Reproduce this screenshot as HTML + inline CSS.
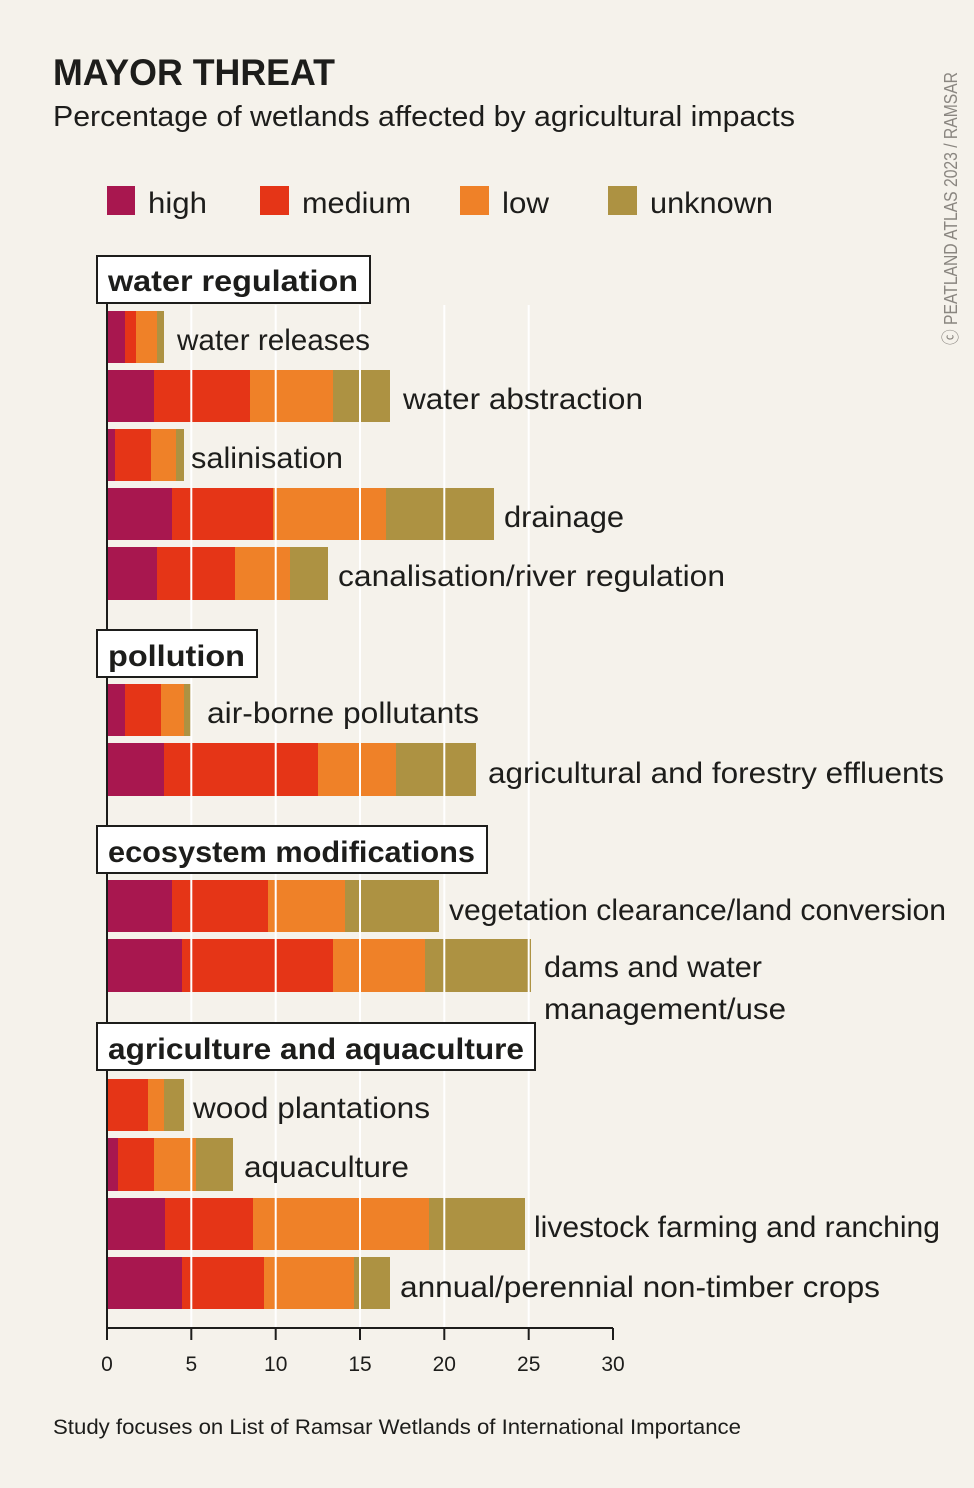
<!DOCTYPE html>
<html><head><meta charset="utf-8"><style>
html,body{margin:0;padding:0;background:#f5f2eb;}
svg{display:block;font-family:"Liberation Sans",sans-serif;}
</style></head><body>
<svg width="974" height="1488" viewBox="0 0 974 1488" xmlns="http://www.w3.org/2000/svg">
<rect width="974" height="1488" fill="#f5f2eb"/>
<text x="53" y="85" font-size="37" font-weight="bold" fill="#1d1d1b" textLength="282" lengthAdjust="spacingAndGlyphs">MAYOR THREAT</text>
<text x="53" y="126" font-size="29" fill="#1d1d1b" textLength="742" lengthAdjust="spacingAndGlyphs">Percentage of wetlands affected by agricultural impacts</text>
<text transform="translate(957,345) rotate(-90)" font-size="18" fill="#8a8680" textLength="273" lengthAdjust="spacingAndGlyphs">ⓒ PEATLAND ATLAS 2023 / RAMSAR</text>
<g font-size="30" fill="#1d1d1b">
<rect x="107" y="186" width="28" height="29" fill="#a8174f"/><text x="148" y="213" textLength="59" lengthAdjust="spacingAndGlyphs">high</text>
<rect x="260" y="186" width="29" height="29" fill="#e53517"/><text x="302" y="213" textLength="109" lengthAdjust="spacingAndGlyphs">medium</text>
<rect x="460" y="186" width="29" height="29" fill="#ef8128"/><text x="502" y="213" textLength="47" lengthAdjust="spacingAndGlyphs">low</text>
<rect x="608" y="186" width="29" height="29" fill="#ad9242"/><text x="650" y="213" textLength="123" lengthAdjust="spacingAndGlyphs">unknown</text>
</g>
<g id="bars">
<!-- y, h, e, m, l, u end positions -->
<g fill="#a8174f">
<rect x="107" y="311" width="18" height="52"/><rect x="107" y="370" width="47" height="52"/><rect x="107" y="429" width="8" height="52"/><rect x="107" y="488" width="65" height="52"/><rect x="107" y="547" width="50" height="53"/>
<rect x="107" y="684" width="18" height="52"/><rect x="107" y="743" width="57" height="53"/>
<rect x="107" y="880" width="65" height="52"/><rect x="107" y="939" width="75" height="53"/>
<rect x="107" y="1138" width="11" height="53"/><rect x="107" y="1198" width="58" height="52"/><rect x="107" y="1257" width="75" height="52"/>
</g>
<g fill="#e53517">
<rect x="125" y="311" width="11" height="52"/><rect x="154" y="370" width="96" height="52"/><rect x="115" y="429" width="36" height="52"/><rect x="172" y="488" width="101" height="52"/><rect x="157" y="547" width="78" height="53"/>
<rect x="125" y="684" width="36" height="52"/><rect x="164" y="743" width="154" height="53"/>
<rect x="172" y="880" width="96" height="52"/><rect x="182" y="939" width="151" height="53"/>
<rect x="107" y="1079" width="41" height="52"/><rect x="118" y="1138" width="36" height="53"/><rect x="165" y="1198" width="88" height="52"/><rect x="182" y="1257" width="82" height="52"/>
</g>
<g fill="#ef8128">
<rect x="136" y="311" width="21" height="52"/><rect x="250" y="370" width="83" height="52"/><rect x="151" y="429" width="25" height="52"/><rect x="273" y="488" width="113" height="52"/><rect x="235" y="547" width="55" height="53"/>
<rect x="161" y="684" width="23" height="52"/><rect x="318" y="743" width="78" height="53"/>
<rect x="268" y="880" width="77" height="52"/><rect x="333" y="939" width="92" height="53"/>
<rect x="148" y="1079" width="16" height="52"/><rect x="154" y="1138" width="42" height="53"/><rect x="253" y="1198" width="176" height="52"/><rect x="264" y="1257" width="90" height="52"/>
</g>
<g fill="#ad9242">
<rect x="157" y="311" width="7" height="52"/><rect x="333" y="370" width="57" height="52"/><rect x="176" y="429" width="8" height="52"/><rect x="386" y="488" width="108" height="52"/><rect x="290" y="547" width="38" height="53"/>
<rect x="184" y="684" width="7" height="52"/><rect x="396" y="743" width="80" height="53"/>
<rect x="345" y="880" width="94" height="52"/><rect x="425" y="939" width="106" height="53"/>
<rect x="164" y="1079" width="20" height="52"/><rect x="196" y="1138" width="37" height="53"/><rect x="429" y="1198" width="96" height="52"/><rect x="354" y="1257" width="36" height="52"/>
</g>
</g>
<g stroke="#ffffff" stroke-width="2">
<line x1="191.3" y1="305" x2="191.3" y2="1328"/><line x1="275.7" y1="305" x2="275.7" y2="1328"/><line x1="360" y1="305" x2="360" y2="1328"/><line x1="444.3" y1="305" x2="444.3" y2="1328"/><line x1="528.7" y1="305" x2="528.7" y2="1328"/>
</g>
<g stroke="#1d1d1b" stroke-width="2" fill="none">
<line x1="107" y1="303" x2="107" y2="1340"/>
<line x1="106" y1="1328" x2="613" y2="1328"/>
<line x1="191.3" y1="1328" x2="191.3" y2="1340"/><line x1="275.7" y1="1328" x2="275.7" y2="1340"/><line x1="360" y1="1328" x2="360" y2="1340"/><line x1="444.3" y1="1328" x2="444.3" y2="1340"/><line x1="528.7" y1="1328" x2="528.7" y2="1340"/><line x1="613" y1="1328" x2="613" y2="1340"/>
</g>
<g font-size="21" fill="#1d1d1b" text-anchor="middle">
<text x="107" y="1371">0</text><text x="191.3" y="1371">5</text><text x="275.7" y="1371">10</text><text x="360" y="1371">15</text><text x="444.3" y="1371">20</text><text x="528.7" y="1371">25</text><text x="613" y="1371">30</text>
</g>
<g fill="#ffffff" stroke="#1d1d1b" stroke-width="2">
<rect x="97" y="256" width="273" height="47"/><rect x="97" y="630" width="160" height="47"/><rect x="97" y="826" width="390" height="47"/><rect x="97" y="1023" width="438" height="47"/>
</g>
<g font-size="30" font-weight="bold" fill="#1d1d1b">
<text x="108" y="291" textLength="250" lengthAdjust="spacingAndGlyphs">water regulation</text>
<text x="108" y="666" textLength="137" lengthAdjust="spacingAndGlyphs">pollution</text>
<text x="108" y="862" textLength="367" lengthAdjust="spacingAndGlyphs">ecosystem modifications</text>
<text x="108" y="1059" textLength="416" lengthAdjust="spacingAndGlyphs">agriculture and aquaculture</text>
</g>
<g font-size="30" fill="#1d1d1b">
<text x="177" y="350" textLength="193" lengthAdjust="spacingAndGlyphs">water releases</text>
<text x="403" y="409" textLength="240" lengthAdjust="spacingAndGlyphs">water abstraction</text>
<text x="191" y="468" textLength="152" lengthAdjust="spacingAndGlyphs">salinisation</text>
<text x="504" y="527" textLength="120" lengthAdjust="spacingAndGlyphs">drainage</text>
<text x="338" y="586" textLength="387" lengthAdjust="spacingAndGlyphs">canalisation/river regulation</text>
<text x="207" y="723" textLength="272" lengthAdjust="spacingAndGlyphs">air-borne pollutants</text>
<text x="488" y="783" textLength="456" lengthAdjust="spacingAndGlyphs">agricultural and forestry effluents</text>
<text x="449" y="920" textLength="497" lengthAdjust="spacingAndGlyphs">vegetation clearance/land conversion</text>
<text x="544" y="977" textLength="218" lengthAdjust="spacingAndGlyphs">dams and water</text>
<text x="544" y="1019" textLength="242" lengthAdjust="spacingAndGlyphs">management/use</text>
<text x="193" y="1118" textLength="237" lengthAdjust="spacingAndGlyphs">wood plantations</text>
<text x="244" y="1177" textLength="165" lengthAdjust="spacingAndGlyphs">aquaculture</text>
<text x="534" y="1237" textLength="406" lengthAdjust="spacingAndGlyphs">livestock farming and ranching</text>
<text x="400" y="1297" textLength="480" lengthAdjust="spacingAndGlyphs">annual/perennial non-timber crops</text>
</g>
<text x="53" y="1434" font-size="21" fill="#1d1d1b" textLength="688" lengthAdjust="spacingAndGlyphs">Study focuses on List of Ramsar Wetlands of International Importance</text>
</svg>
</body></html>
